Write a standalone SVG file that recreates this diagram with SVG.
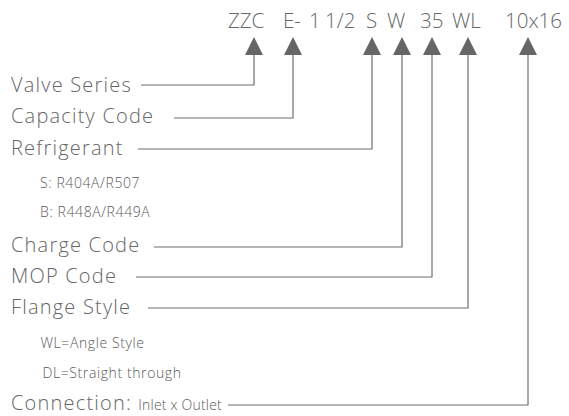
<svg xmlns="http://www.w3.org/2000/svg" width="569" height="416" viewBox="0 0 569 416">
<style>
  .code { font-family: "Open Sans", "Noto Sans", sans-serif; font-size: 20.5px; font-weight: 350; fill: #666; }
  .lbl { font-family: "Open Sans", "Noto Sans", sans-serif; font-size: 20px; font-weight: 350; letter-spacing: 1.2px; fill: #666; }
  .sub { font-family: "Open Sans", "Noto Sans", sans-serif; font-size: 14px; font-weight: 350; letter-spacing: 0.6px; fill: #5a5a5a; }
  .ln { fill: none; stroke: #6e6e6e; stroke-width: 1.2; }
  .ah { fill: #666; }
</style>
<rect width="569" height="416" fill="#fff"/>
<g id="code">
  <text class="code" x="228" y="28">ZZC</text>
  <text class="code" x="283" y="28">E-</text>
  <text class="code" x="309" y="28">1</text>
  <text class="code" x="325" y="28">1/2</text>
  <text class="code" x="366" y="28">S</text>
  <text class="code" x="387" y="28">W</text>
  <text class="code" x="420" y="28">35</text>
  <text class="code" x="452" y="28">WL</text>
  <text class="code" x="505" y="28">10x16</text>
</g>
<g id="valve-series"><text class="lbl" x="11" y="92">Valve Series</text></g>
<g id="capacity-code"><text class="lbl" x="11" y="123">Capacity Code</text></g>
<g id="refrigerant">
  <text class="lbl" x="11" y="155">Refrigerant</text>
  <text class="sub" x="40" y="188">S: R404A/R507</text>
  <text class="sub" x="40" y="217">B: R448A/R449A</text>
</g>
<g id="charge-code"><text class="lbl" x="11" y="251.5">Charge Code</text></g>
<g id="mop-code"><text class="lbl" x="11" y="282.5">MOP Code</text></g>
<g id="flange-style">
  <text class="lbl" x="11" y="313.5">Flange Style</text>
  <text class="sub" x="40.5" y="348">WL=Angle Style</text>
  <text class="sub" x="42.5" y="378">DL=Straight through</text>
</g>
<g id="connection"><text class="lbl" x="11" y="409.5">Connection: <tspan class="sub" style="letter-spacing:0.2px" font-size="13.5px">Inlet x Outlet</tspan></text></g>
<g id="connectors">
  <polyline class="ln" points="141,85 254,85 254,54"/>
  <polyline class="ln" points="174,118 293,118 293,54"/>
  <polyline class="ln" points="138,149 372,149 372,54"/>
  <polyline class="ln" points="154,247 402,247 402,54"/>
  <polyline class="ln" points="136,277 432,277 432,54"/>
  <polyline class="ln" points="148,308 468,308 468,54"/>
  <polyline class="ln" points="228,405 528,405 528,54"/>
  <polygon class="ah" points="254,37 245,55 263,55"/>
  <polygon class="ah" points="293,37 284,55 302,55"/>
  <polygon class="ah" points="372,37 363,55 381,55"/>
  <polygon class="ah" points="402,37 393,55 411,55"/>
  <polygon class="ah" points="432,37 423,55 441,55"/>
  <polygon class="ah" points="468,37 459,55 477,55"/>
  <polygon class="ah" points="528,37 519,55 537,55"/>
</g>
</svg>
